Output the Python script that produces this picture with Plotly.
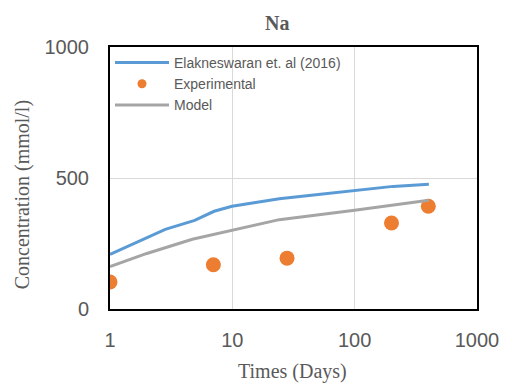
import plotly.graph_objects as go

# Data
ref_days = [1, 2.83, 4.92, 7.1, 9.94, 24.2, 50.4, 98.9, 206, 404]
ref_na = [208, 304, 338, 373, 392, 421, 437, 453, 468, 476]

model_days = [1, 2, 4.71, 10, 24.2, 100, 404]
model_na = [162, 212, 266, 300, 341, 377, 415]

exp_days = [1, 7, 28, 200, 400]
exp_na = [103, 169, 194, 328, 392]

x_ticks = [1, 10, 100, 1000]
y_ticks = [0, 500, 1000]

TXT = "#595959"
SANS = "Liberation Sans"
SERIF = "Liberation Serif"
ORANGE = "#ED7D31"

fig = go.Figure()
fig.add_trace(go.Scatter(x=ref_days, y=ref_na, mode="lines",
                         name="Elakneswaran et. al (2016)",
                         line=dict(color="#5B9BD5", width=3)))
fig.add_trace(go.Scatter(x=exp_days, y=exp_na, mode="markers",
                         name="Experimental", showlegend=False, legendgroup="exp",
                         marker=dict(color=ORANGE, size=15)))
# legend entry with a smaller symbol (as in the original)
fig.add_trace(go.Scatter(x=[None], y=[None], mode="markers",
                         name="Experimental", legendgroup="exp",
                         marker=dict(color=ORANGE, size=9)))
fig.add_trace(go.Scatter(x=model_days, y=model_na, mode="lines",
                         name="Model",
                         line=dict(color="#A5A5A5", width=3)))

fig.update_layout(
    width=511, height=383,
    margin=dict(l=110, r=25, t=47, b=74),
    paper_bgcolor="white", plot_bgcolor="white",
    showlegend=True,
    legend=dict(x=0, y=1, xanchor="left", yanchor="top",
                bgcolor="rgba(0,0,0,0)", font=dict(family=SANS, size=14, color=TXT),
                tracegroupgap=0, itemwidth=54),
    xaxis=dict(type="log", range=[0, 3], tickvals=x_ticks,
               ticktext=[str(v) for v in x_ticks],
               showline=True, linecolor="black", linewidth=2, mirror=True,
               showgrid=True, gridcolor="#D9D9D9", gridwidth=1,
               zeroline=False, ticks="", ticklabelstandoff=12,
               tickfont=dict(family=SANS, size=20, color=TXT)),
    yaxis=dict(range=[0, 1000], tickvals=y_ticks,
               showline=True, linecolor="black", linewidth=2, mirror=True,
               showgrid=True, gridcolor="#D9D9D9", gridwidth=1,
               zeroline=False, ticks="", ticklabelstandoff=15,
               tickfont=dict(family=SANS, size=20, color=TXT)),
    annotations=[
        dict(text="<b>Na</b>", x=0.455, y=1.092, xref="paper", yref="paper",
             xanchor="center", yanchor="middle",
             showarrow=False, font=dict(family=SERIF, size=20, color=TXT)),
        dict(text="Times (Days)", x=0.496, y=-0.24, xref="paper", yref="paper",
             xanchor="center", yanchor="middle",
             showarrow=False, font=dict(family=SERIF, size=20, color=TXT)),
        dict(text="Concentration (mmol/l)", x=-0.239, y=0.435, xref="paper", yref="paper",
             xanchor="center", yanchor="middle",
             showarrow=False, textangle=-90, font=dict(family=SERIF, size=20, color=TXT)),
    ],
)

fig.write_html("out.html")
